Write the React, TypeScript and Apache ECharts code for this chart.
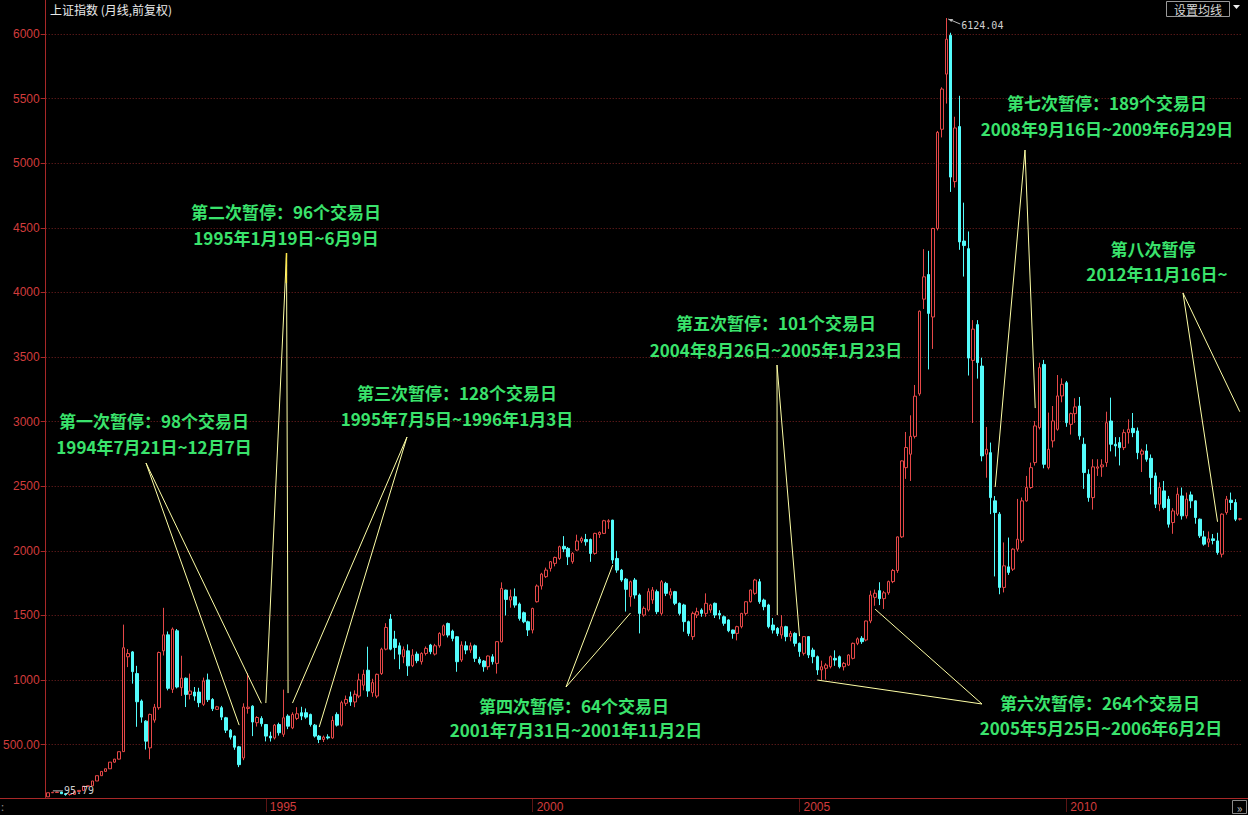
import React, { useEffect, useRef } from 'react';
import * as echarts from 'echarts';

// ---------- data: monthly candles [open, close, low, high] ----------
const FIRST_YEAR = 1990;
const FIRST_MONTH = 12;

const k1990 = [[96.05, 127.61, 95.79, 127.61]];
const k1991 = [
  [127.61, 129.97, 127.0, 135.19], [129.97, 133.01, 129.0, 134.87], [133.01, 120.19, 120.0, 134.6],
  [120.19, 113.94, 104.96, 120.5], [113.94, 114.83, 105.6, 115.5], [114.83, 137.56, 114.0, 137.6],
  [137.56, 145.88, 137.0, 146.0], [145.88, 178.43, 145.0, 178.5], [178.43, 180.92, 176.0, 181.5],
  [180.92, 218.6, 180.0, 219.0], [218.6, 259.6, 218.0, 260.0], [259.6, 292.75, 259.0, 293.0],
];
const k1992 = [
  [292.75, 313.24, 292.0, 313.5], [313.24, 364.45, 313.0, 365.0], [364.45, 387.87, 360.0, 390.0],
  [387.87, 445.45, 385.0, 446.0], [446.0, 1250.0, 446.0, 1429.0], [1180.0, 1205.0, 1100.0, 1240.0],
  [1218.0, 1065.0, 972.0, 1225.0], [1050.0, 832.0, 638.0, 1110.0], [838.0, 713.0, 670.0, 850.0],
  [682.0, 527.0, 462.0, 690.0], [475.0, 734.0, 387.0, 740.0], [690.0, 790.0, 670.0, 815.0],
];
const k1993 = [
  [786.0, 1213.0, 770.0, 1220.0], [1226.0, 1350.0, 1190.0, 1558.95], [1350.0, 936.0, 920.0, 1376.0],
  [928.0, 1394.0, 900.0, 1407.0], [1381.0, 946.0, 935.0, 1395.0], [941.0, 1014.0, 877.0, 1188.0],
  [1014.0, 889.0, 791.0, 1020.0], [889.0, 915.0, 850.0, 1050.0], [907.0, 876.0, 840.0, 946.0],
  [907.0, 825.0, 790.0, 940.0], [812.0, 993.0, 800.0, 1019.0], [1001.0, 848.0, 830.0, 1050.0],
];
const k1994 = [
  [850.0, 778.0, 760.0, 860.0], [773.0, 793.0, 768.0, 800.0], [786.0, 713.0, 690.0, 800.0],
  [708.0, 612.0, 590.0, 715.0], [612.0, 558.0, 540.0, 620.0], [566.0, 480.0, 460.0, 570.0],
  [483.0, 345.0, 325.89, 490.0], [397.0, 791.0, 380.0, 820.0], [780.0, 790.0, 740.0, 1052.94],
  [798.0, 675.0, 566.0, 805.0], [670.0, 710.0, 640.0, 720.0], [703.0, 662.0, 640.0, 720.0],
];
const k1995 = [
  [656.0, 566.0, 525.0, 660.0], [566.0, 552.0, 524.0, 600.0], [552.0, 651.0, 540.0, 660.0],
  [656.0, 592.0, 570.0, 670.0], [580.0, 708.0, 560.0, 926.0], [721.0, 643.0, 620.0, 735.0],
  [630.0, 734.0, 620.0, 750.0], [703.0, 739.0, 690.0, 790.0], [747.0, 721.0, 690.0, 793.0],
  [747.0, 713.0, 700.0, 780.0], [734.0, 656.0, 640.0, 740.0], [651.0, 566.0, 555.0, 660.0],
];
const k1996 = [
  [566.0, 540.0, 512.0, 575.0], [540.0, 558.0, 520.0, 570.0], [560.0, 552.0, 540.0, 580.0],
  [552.0, 687.0, 545.0, 720.0], [734.0, 651.0, 640.0, 750.0], [651.0, 825.0, 640.0, 840.0],
  [820.0, 850.0, 800.0, 880.0], [870.0, 830.0, 800.0, 910.0], [830.0, 890.0, 790.0, 920.0],
  [876.0, 1001.0, 860.0, 1050.0], [960.0, 1044.0, 920.0, 1080.0], [1076.0, 915.0, 870.0, 1258.0],
];
const k1997 = [
  [902.0, 980.0, 870.0, 1010.0], [876.0, 1044.0, 860.0, 1050.0], [1050.0, 1239.0, 1040.0, 1250.0],
  [1239.0, 1407.0, 1230.0, 1440.0], [1472.0, 1239.0, 1230.0, 1510.0], [1317.0, 1252.0, 1161.0, 1381.0],
  [1265.0, 1200.0, 1084.0, 1290.0], [1180.0, 1235.0, 1130.0, 1260.0], [1226.0, 1110.0, 1032.0, 1276.0],
  [1111.0, 1193.0, 1100.0, 1239.0], [1201.0, 1150.0, 1130.0, 1220.0], [1142.0, 1206.0, 1120.0, 1215.0],
];
const k1998 = [
  [1206.0, 1245.0, 1190.0, 1260.0], [1271.0, 1219.0, 1200.0, 1280.0], [1201.0, 1265.0, 1190.0, 1280.0],
  [1265.0, 1361.0, 1250.0, 1370.0], [1348.0, 1420.0, 1340.0, 1430.0], [1438.0, 1348.0, 1330.0, 1445.0],
  [1379.0, 1322.0, 1300.0, 1390.0], [1335.0, 1142.0, 1064.0, 1340.0], [1155.0, 1271.0, 1140.0, 1300.0],
  [1265.0, 1232.0, 1200.0, 1300.0], [1232.0, 1265.0, 1210.0, 1290.0], [1265.0, 1168.0, 1140.0, 1275.0],
];
const k1999 = [
  [1160.0, 1134.0, 1120.0, 1180.0], [1147.0, 1103.0, 1065.0, 1155.0], [1103.0, 1186.0, 1080.0, 1190.0],
  [1180.0, 1142.0, 1120.0, 1200.0], [1129.0, 1297.0, 1050.0, 1300.0], [1297.0, 1709.0, 1290.0, 1756.0],
  [1696.0, 1624.0, 1500.0, 1700.0], [1619.0, 1645.0, 1560.0, 1700.0], [1645.0, 1580.0, 1560.0, 1709.0],
  [1588.0, 1477.0, 1460.0, 1600.0], [1521.0, 1451.0, 1440.0, 1530.0], [1451.0, 1387.0, 1341.0, 1460.0],
];
const k2000 = [
  [1387.0, 1554.0, 1361.0, 1560.0], [1606.0, 1728.0, 1600.0, 1740.0], [1728.0, 1820.0, 1700.0, 1830.0],
  [1800.0, 1851.0, 1790.0, 1870.0], [1864.0, 1916.0, 1840.0, 1920.0], [1903.0, 1949.0, 1880.0, 1955.0],
  [1941.0, 2032.0, 1930.0, 2040.0], [2035.0, 2015.0, 1990.0, 2114.0], [2019.0, 1954.0, 1890.0, 2030.0],
  [1916.0, 1980.0, 1900.0, 1990.0], [2006.0, 2076.0, 2000.0, 2125.0], [2076.0, 2096.0, 2060.0, 2110.0],
];
const k2001 = [
  [2088.0, 2070.0, 2040.0, 2131.0], [2088.0, 1980.0, 1915.0, 2095.0], [1980.0, 2135.0, 1970.0, 2140.0],
  [2127.0, 2143.0, 2100.0, 2150.0], [2135.0, 2233.0, 2130.0, 2240.0], [2225.0, 2233.0, 2170.0, 2245.0],
  [2238.0, 1929.0, 1900.0, 2240.0], [1941.0, 1851.0, 1830.0, 2000.0], [1851.0, 1774.0, 1760.0, 1860.0],
  [1781.0, 1702.0, 1530.0, 1790.0], [1645.0, 1761.0, 1568.0, 1770.0], [1774.0, 1658.0, 1630.0, 1790.0],
];
const k2002 = [
  [1658.0, 1516.0, 1361.0, 1670.0], [1503.0, 1555.0, 1490.0, 1570.0], [1542.0, 1684.0, 1530.0, 1710.0],
  [1620.0, 1697.0, 1590.0, 1720.0], [1684.0, 1529.0, 1510.0, 1700.0], [1516.0, 1761.0, 1500.0, 1774.0],
  [1748.0, 1671.0, 1650.0, 1760.0], [1658.0, 1684.0, 1630.0, 1710.0], [1684.0, 1594.0, 1580.0, 1690.0],
  [1594.0, 1516.0, 1500.0, 1600.0], [1581.0, 1452.0, 1374.0, 1590.0], [1452.0, 1361.0, 1340.0, 1460.0],
];
const k2003 = [
  [1336.0, 1516.0, 1311.0, 1530.0], [1503.0, 1529.0, 1480.0, 1560.0], [1542.0, 1516.0, 1490.0, 1555.0],
  [1516.0, 1594.0, 1490.0, 1671.0], [1542.0, 1581.0, 1520.0, 1590.0], [1594.0, 1503.0, 1480.0, 1600.0],
  [1516.0, 1503.0, 1470.0, 1540.0], [1490.0, 1439.0, 1420.0, 1500.0], [1465.0, 1382.0, 1370.0, 1470.0],
  [1387.0, 1361.0, 1320.0, 1390.0], [1361.0, 1413.0, 1307.0, 1420.0], [1413.0, 1516.0, 1400.0, 1520.0],
];
const k2004 = [
  [1516.0, 1606.0, 1500.0, 1610.0], [1606.0, 1697.0, 1600.0, 1700.0], [1671.0, 1774.0, 1660.0, 1783.0],
  [1761.0, 1606.0, 1590.0, 1783.0], [1619.0, 1568.0, 1540.0, 1630.0], [1581.0, 1413.0, 1400.0, 1590.0],
  [1426.0, 1387.0, 1360.0, 1480.0], [1400.0, 1361.0, 1340.0, 1410.0], [1349.0, 1413.0, 1320.0, 1503.0],
  [1413.0, 1336.0, 1300.0, 1420.0], [1336.0, 1361.0, 1300.0, 1380.0], [1361.0, 1284.0, 1260.0, 1370.0],
];
const k2005 = [
  [1284.0, 1220.0, 1180.0, 1290.0], [1207.0, 1336.0, 1190.0, 1340.0], [1336.0, 1194.0, 1170.0, 1340.0],
  [1232.0, 1181.0, 1130.0, 1250.0], [1181.0, 1078.0, 1040.0, 1190.0], [1078.0, 1103.0, 998.0, 1150.0],
  [1091.0, 1116.0, 1004.0, 1130.0], [1103.0, 1181.0, 1090.0, 1190.0], [1168.0, 1155.0, 1110.0, 1230.0],
  [1181.0, 1103.0, 1090.0, 1190.0], [1103.0, 1129.0, 1074.0, 1140.0], [1116.0, 1194.0, 1110.0, 1200.0],
];
const k2006 = [
  [1168.0, 1284.0, 1160.0, 1290.0], [1284.0, 1319.0, 1270.0, 1330.0], [1323.0, 1297.0, 1280.0, 1340.0],
  [1310.0, 1457.0, 1300.0, 1460.0], [1457.0, 1658.0, 1440.0, 1692.0], [1640.0, 1672.0, 1575.0, 1700.0],
  [1692.0, 1630.0, 1580.0, 1757.0], [1630.0, 1675.0, 1550.0, 1690.0], [1675.0, 1762.0, 1660.0, 1770.0],
  [1762.0, 1848.0, 1750.0, 1860.0], [1848.0, 2108.0, 1830.0, 2110.0], [2108.0, 2696.0, 2100.0, 2700.0],
];
const k2007 = [
  [2644.0, 2800.0, 2557.0, 2920.0], [2748.0, 2886.0, 2541.0, 3049.0], [2886.0, 3197.0, 2870.0, 3284.0],
  [3215.0, 3855.0, 3200.0, 3860.0], [3948.0, 4121.0, 3872.0, 4335.0], [4139.0, 3838.0, 3404.0, 4322.0],
  [3810.0, 4495.0, 3563.0, 4500.0], [4495.0, 5239.0, 4480.0, 5250.0], [5263.0, 5574.0, 5200.0, 5588.0],
  [5690.0, 5960.0, 5462.0, 6124.04], [5990.0, 4893.0, 4778.0, 6010.0], [4858.0, 5273.0, 4812.0, 5360.0],
];
const k2008 = [
  [5284.0, 4391.0, 4330.0, 5522.0], [4398.0, 4363.0, 4123.0, 4695.0], [4339.0, 3492.0, 3357.0, 4472.0],
  [3474.0, 3716.0, 2990.0, 3786.0], [3751.0, 3457.0, 3333.0, 3786.0], [3430.0, 2735.0, 2693.0, 3495.0],
  [2748.0, 2786.0, 2566.0, 2959.0], [2760.0, 2412.0, 2284.0, 2838.0], [2387.0, 2297.0, 1802.0, 2424.0],
  [2284.0, 1717.0, 1664.0, 2300.0], [1717.0, 1884.0, 1678.0, 2065.0], [1876.0, 1833.0, 1814.0, 2103.0],
];
const k2009 = [
  [1858.0, 2013.0, 1844.0, 2020.0], [2013.0, 2090.0, 1995.0, 2402.0], [2077.0, 2387.0, 2060.0, 2413.0],
  [2387.0, 2490.0, 2380.0, 2580.0], [2490.0, 2644.0, 2480.0, 2683.0], [2683.0, 2967.0, 2660.0, 3005.0],
  [2954.0, 3418.0, 2940.0, 3456.0], [3443.0, 2670.0, 2639.0, 3478.0], [2644.0, 2786.0, 2630.0, 3070.0],
  [2851.0, 3005.0, 2800.0, 3121.0], [2941.0, 3199.0, 2930.0, 3361.0], [3199.0, 3289.0, 3150.0, 3335.0],
];
const k2010 = [
  [3301.0, 2992.0, 2960.0, 3315.0], [2979.0, 3062.0, 2900.0, 3070.0], [3062.0, 3114.0, 2990.0, 3181.0],
  [3121.0, 2890.0, 2860.0, 3191.0], [2825.0, 2606.0, 2480.0, 2876.0], [2593.0, 2412.0, 2380.0, 2631.0],
  [2412.0, 2650.0, 2319.0, 2709.0], [2640.0, 2650.0, 2580.0, 2709.0], [2650.0, 2665.0, 2573.0, 2709.0],
  [2683.0, 2992.0, 2650.0, 3077.0], [3005.0, 2825.0, 2770.0, 3186.0], [2825.0, 2812.0, 2730.0, 2880.0],
];
const k2011 = [
  [2838.0, 2799.0, 2661.0, 2880.0], [2799.0, 2915.0, 2780.0, 2940.0], [2915.0, 2941.0, 2830.0, 3018.0],
  [2948.0, 2915.0, 2880.0, 3067.0], [2928.0, 2760.0, 2709.0, 2955.0], [2748.0, 2773.0, 2610.0, 2790.0],
  [2773.0, 2709.0, 2690.0, 2825.0], [2716.0, 2567.0, 2437.0, 2746.0], [2580.0, 2361.0, 2331.0, 2606.0],
  [2361.0, 2490.0, 2307.0, 2530.0], [2464.0, 2335.0, 2320.0, 2541.0], [2400.0, 2206.0, 2180.0, 2425.0],
];
const k2012 = [
  [2219.0, 2309.0, 2132.0, 2330.0], [2284.0, 2438.0, 2270.0, 2490.0], [2425.0, 2271.0, 2242.0, 2490.0],
  [2271.0, 2400.0, 2250.0, 2451.0], [2433.0, 2387.0, 2330.0, 2459.0], [2387.0, 2258.0, 2210.0, 2390.0],
  [2245.0, 2116.0, 2100.0, 2250.0], [2108.0, 2052.0, 2040.0, 2155.0], [2067.0, 2093.0, 2029.0, 2150.0],
  [2093.0, 2080.0, 2050.0, 2130.0], [2077.0, 1987.0, 1970.0, 2140.0], [1974.0, 2284.0, 1949.0, 2290.0],
];
const k2013 = [
  [2297.0, 2400.0, 2280.0, 2425.0], [2392.0, 2374.0, 2316.0, 2451.0], [2374.0, 2245.0, 2230.0, 2400.0],
  [2245.0, 2248.0, 2235.0, 2255.0],
];

const candles = [
  ...k1990, ...k1991, ...k1992, ...k1993, ...k1994, ...k1995, ...k1996, ...k1997, ...k1998,
  ...k1999, ...k2000, ...k2001, ...k2002, ...k2003, ...k2004, ...k2005, ...k2006, ...k2007,
  ...k2008, ...k2009, ...k2010, ...k2011, ...k2012, ...k2013,
];

const months: string[] = [];
for (let i = 0; i < candles.length; i++) {
  const m0 = FIRST_MONTH - 1 + i;
  const y = FIRST_YEAR + Math.floor(m0 / 12);
  const m = (m0 % 12) + 1;
  months.push(`${y}-${String(m).padStart(2, '0')}`);
}

const labelYears = ['1995', '2000', '2005', '2010'];
const titleText = '上证指数 (月线,前复权)';
const buttonText = '设置均线';
const maxPoint: [string, number] = ['2007-10', 6124.04];
const minPoint: [string, number] = ['1990-12', 95.79];

const noteTitles = [
  '第一次暂停：98个交易日',
  '第二次暂停：96个交易日',
  '第三次暂停：128个交易日',
  '第四次暂停：64个交易日',
  '第五次暂停：101个交易日',
  '第六次暂停：264个交易日',
  '第七次暂停：189个交易日',
  '第八次暂停',
];
const notePeriods = [
  '1994年7月21日~12月7日',
  '1995年1月19日~6月9日',
  '1995年7月5日~1996年1月3日',
  '2001年7月31日~2001年11月2日',
  '2004年8月26日~2005年1月23日',
  '2005年5月25日~2006年6月2日',
  '2008年9月16日~2009年6月29日',
  '2012年11月16日~',
];
// pointer targets (category, value) for the two lines of each note
const noteTargets: [string, number][][] = [
  [['1994-07', 651], ['1994-12', 820]],
  [['1995-01', 822], ['1995-06', 899]],
  [['1995-07', 822], ['1996-01', 636]],
  [['2001-07', 1890], ['2001-11', 1519]],
  [['2004-08', 1503], ['2005-01', 1340]],
  [['2005-05', 1000], ['2006-06', 1549]],
  [['2008-09', 2494], ['2009-06', 3105]],
  [['2012-11', 2225], ['2013-04', 3077]],
];

// ---------- layout / style ----------
const noteLayout = [
  { x1: 154, y1: 420, x2: 154, y2: 446, sx: 146, sy: 463 },
  { x1: 286, y1: 211, x2: 286, y2: 237, sx: 286.5, sy: 253 },
  { x1: 457, y1: 392, x2: 457, y2: 418, sx: 407, sy: 437 },
  { x1: 574, y1: 705, x2: 576, y2: 729, sx: 566, sy: 687 },
  { x1: 776, y1: 322, x2: 776, y2: 349, sx: 777, sy: 365 },
  { x1: 1100, y1: 702, x2: 1101, y2: 727, sx: 982, sy: 704 },
  { x1: 1107, y1: 102, x2: 1107, y2: 128, sx: 1025, sy: 150 },
  { x1: 1153, y1: 248, x2: 1157, y2: 273, sx: 1183, sy: 293 },
];

const RED = '#E64848';
const CYAN = '#54FCFC';
const AXIS_RED = '#A82828';
const LABEL_RED = '#D23C3C';
const GRID_RED = '#7A2222';
const GREEN = '#3AE36C';
const POINTER = '#FFFFA6';
const CJK = '"Noto Sans CJK SC", "Noto Sans", sans-serif';

const showYear = (_: number, v: string) =>
  v.slice(5) === '01' && labelYears.includes(v.slice(0, 4));

export default function App() {
  const ref = useRef<HTMLDivElement>(null);

  useEffect(() => {
    if (!ref.current) return;
    const chart = echarts.init(ref.current, null, { renderer: 'svg' });
    chart.setOption({
      animation: false,
      backgroundColor: '#000000',
      grid: { left: 45, right: 6, top: 17, bottom: 17, containLabel: false },
      xAxis: {
        type: 'category',
        data: months,
        boundaryGap: true,
        axisLine: { show: false },
        axisTick: {
          show: true,
          alignWithLabel: true,
          interval: showYear,
          length: 14,
          lineStyle: { color: '#5A1414' },
        },
        axisLabel: {
          interval: showYear,
          formatter: (v: string) => v.slice(0, 4),
          color: LABEL_RED,
          fontSize: 12,
          fontFamily: 'Arial, "Liberation Sans", sans-serif',
          align: 'left',
          padding: [0, 0, 0, 4],
          margin: 3,
        },
        splitLine: { show: false },
      },
      yAxis: {
        type: 'value',
        min: 87,
        max: 6132,
        splitNumber: 12,
        axisLine: { show: false },
        axisTick: { show: true, length: 5, lineStyle: { color: AXIS_RED } },
        axisLabel: {
          showMinLabel: false,
          showMaxLabel: false,
          color: LABEL_RED,
          fontSize: 12,
          fontFamily: 'Arial, "Liberation Sans", sans-serif',
          margin: 6,
          formatter: (v: number) => (v === 500 ? '500.00' : String(v)),
        },
        splitLine: {
          show: true,
          showMinLine: false,
          showMaxLine: false,
          lineStyle: { color: GRID_RED, type: [1, 2], width: 1 },
        },
      },
      series: [
        {
          type: 'candlestick',
          data: candles,
          barWidth: 3,
          itemStyle: {
            color: '#000000',
            color0: CYAN,
            borderColor: RED,
            borderColor0: CYAN,
            borderWidth: 1,
          },
        },
      ],
    });

    const px = (p: [string, number]) =>
      chart.convertToPixel({ seriesIndex: 0 }, [months.indexOf(p[0]), p[1]]) as number[];

    const g: any[] = [];
    const txt = (x: number, y: number, text: string, font: string, fill: string, align = 'left') => ({
      type: 'text',
      x,
      y,
      silent: true,
      z: 100,
      style: {
        text,
        font,
        fill,
        align,
        textAlign: align,
        verticalAlign: 'middle',
        textVerticalAlign: 'middle',
      },
    });
    const line = (x1: number, y1: number, x2: number, y2: number, stroke: string, w = 1) => ({
      type: 'line',
      silent: true,
      z: 90,
      shape: { x1, y1, x2, y2 },
      style: { stroke, lineWidth: w },
    });

    // frame lines
    g.push(line(45.5, 0, 45.5, 798, AXIS_RED));
    g.push(line(0, 798.5, 1248, 798.5, AXIS_RED));

    // title and buttons
    g.push(txt(50, 9, titleText, `12px ${CJK}`, '#EAEAEA'));
    g.push({
      type: 'rect', silent: true, z: 100,
      shape: { x: 1166.5, y: 1.5, width: 63, height: 15 },
      style: { fill: '#000', stroke: '#9A9A9A', lineWidth: 1 },
    });
    g.push(txt(1198, 9, buttonText, `12px ${CJK}`, '#D8D8D8', 'center'));
    g.push({
      type: 'polygon', silent: true, z: 100,
      shape: { points: [[1233, 5], [1240, 5], [1236.5, 9]] },
      style: { fill: '#EEEEEE' },
    });
    g.push({
      type: 'rect', silent: true, z: 100,
      shape: { x: 1232.5, y: 800.5, width: 14, height: 13 },
      style: { fill: '#000', stroke: '#8A8A8A', lineWidth: 1 },
    });
    g.push(txt(1239.5, 807, '»', `12px ${CJK}`, '#BBBBBB', 'center'));
    g.push(txt(1, 806, ':', `11px ${CJK}`, '#888888'));

    // max / min labels
    const pMax = px(maxPoint);
    g.push(line(pMax[0] + 2, pMax[1] + 1, pMax[0] + 14, pMax[1] + 6, '#BBBBBB'));
    g.push({
      type: 'polygon', silent: true, z: 100,
      shape: { points: [[pMax[0] + 2, pMax[1] + 1], [pMax[0] + 7, pMax[1] + 1], [pMax[0] + 5, pMax[1] + 4]] },
      style: { fill: '#BBBBBB' },
    });
    g.push(txt(pMax[0] + 15, pMax[1] + 7, String(maxPoint[1].toFixed(2)), '10px "DejaVu Sans Mono", monospace', '#D0D0D0'));
    const pMin = px(minPoint);
    g.push(line(pMin[0] + 5, pMin[1] - 6, pMin[0] + 15, pMin[1] - 6, '#BBBBBB'));
    g.push(txt(pMin[0] + 16, pMin[1] - 6, String(minPoint[1].toFixed(2)), '10px "DejaVu Sans Mono", monospace', '#D0D0D0'));

    // annotations
    noteTitles.forEach((t, i) => {
      const L = noteLayout[i];
      g.push(txt(L.x1, L.y1, t, `bold 17px ${CJK}`, GREEN, 'center'));
      g.push(txt(L.x2, L.y2, notePeriods[i], `bold 17px ${CJK}`, GREEN, 'center'));
      noteTargets[i].forEach((tg) => {
        const p = px(tg);
        g.push(line(L.sx, L.sy, p[0], p[1], POINTER));
      });
    });
    // brighter overlap at the top of the second note's pointers
    g.push(line(286.5, 253, 286.3, 283, '#FFE84A', 1.5));

    chart.setOption({ graphic: { elements: g } });
    return () => chart.dispose();
  }, []);

  return (
    <div
      ref={ref}
      style={{ position: 'fixed', left: 0, top: 0, width: 1248, height: 815, background: '#000' }}
    />
  );
}
